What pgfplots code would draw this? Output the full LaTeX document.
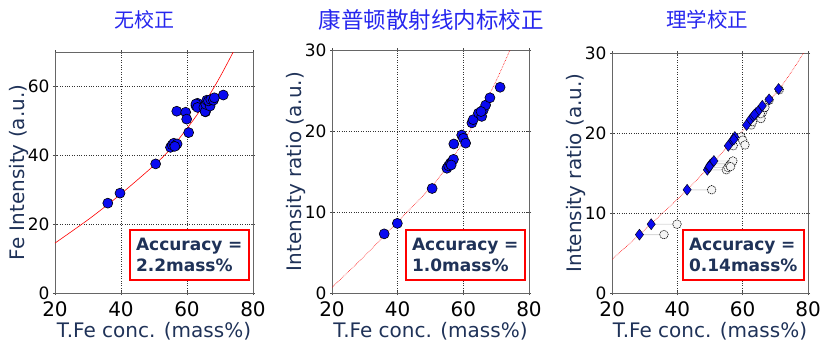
\documentclass[border=0pt]{standalone}
\usepackage{pgfplots}
\pgfplotsset{compat=1.18}
\usepackage{fontspec}
\setmainfont{DejaVu Sans}
\newfontfamily\cjk{Noto Sans CJK SC}
\definecolor{lblnavy}{HTML}{1F3258}
\definecolor{ttl}{HTML}{2626EE}
\definecolor{mblue}{HTML}{0A0AF0}
\pgfplotsset{
  panel/.style={
    scale only axis,
    xmin=20, xmax=80,
    xtick={20,40,60,80},
    grid=major,
    major grid style={black!80, dotted, line width=0.7pt},
    axis line style={black!60, line width=0.8pt},
    tick style={black!70, line width=0.6pt},
    major tick length=4pt,
    tick align=center,
    xticklabel style={font=\fontsize{20}{22}\selectfont, black, yshift=-3pt},
    yticklabel style={font=\fontsize{17}{19}\selectfont, black},
    label style={font=\fontsize{20}{22}\selectfont, text=lblnavy},
    /pgf/number format/assume math mode=true,
    xlabel={T.Fe conc. (mass\%)},
    xlabel style={yshift=1pt},
    ylabel style={yshift=-8pt},
  },
  myfit/.style={red, line width=0.6pt, smooth},
  mypt/.style={only marks, mark=*, mark size=5pt, mark options={fill=mblue, draw=black, line width=0.6pt}},
}
\tikzset{
  accstyle/.style={draw=red, line width=2pt, fill=white, anchor=south east, text=lblnavy,
        font=\bfseries\fontsize{17}{21}\selectfont, align=left,
        inner xsep=6pt, inner ysep=5pt, minimum height=50pt},
}
\begin{document}
\begin{tikzpicture}
\useasboundingbox (0pt,0pt) rectangle (832pt,354pt);
% titles
\node[text=ttl, font=\cjk\fontsize{20}{22}\selectfont] at (144pt,334pt) {无校正};
\node[text=ttl, font=\cjk\fontsize{22.5}{24}\selectfont] at (431pt,334pt) {康普顿散射线内标校正};
\node[text=ttl, font=\cjk\fontsize{20.5}{22}\selectfont] at (707pt,334pt) {理学校正};

% ---------- panel 1
\begin{axis}[panel, at={(55pt,61pt)}, anchor=south west, width=198pt, height=241pt,
  ymin=0, ymax=70, ytick={0,20,40,60}, ylabel={Fe Intensity (a.u.)}]
\addplot[myfit] coordinates {(20,14.5) (30.6,21.7) (40,28.8) (50.5,37.5) (55.5,42.4) (60,47.8) (63.9,53.0) (69.5,61.9) (74,70) (76,74)};
\addplot[mypt] coordinates {
(36.0,26.1) (39.7,29.0) (50.5,37.5)
(55.0,42.3) (55.5,43.0) (56.0,43.5) (56.5,42.8) (57.0,43.3) (56.3,42.6)
(56.9,52.8) (59.6,52.5) (59.9,50.5) (60.5,46.6)
(62.7,54.4) (63.2,55.1) (62.7,54.9) (63.2,53.9)
(65.1,53.9) (65.6,52.6) (65.5,52.7) (65.7,54.8) (66.0,56.0) (67.0,54.3)
(66.5,55.8) (67.2,56.2) (68.0,56.0) (68.3,56.7) (71.0,57.5)};
\node[accstyle, text width=107pt] at (rel axis cs:0.985,0.05) {Accuracy =\\2.2mass\%};
\end{axis}

% ---------- panel 2
\begin{axis}[panel, at={(332pt,61pt)}, anchor=south west, width=197pt, height=243pt,
  ymin=0, ymax=30, ytick={0,10,20,30}, ylabel={Intensity ratio (a.u.)}]
\addplot[myfit, densely dotted] coordinates {(20,0.7) (30,4.6) (40,8.8) (50,13.0) (55,15.6) (60,18.7) (65,22.2) (70,26.2) (74.2,30) (76,31.8)};
\addplot[mypt] coordinates {
(35.9,7.3) (39.9,8.6) (50.5,12.9)
(55.0,15.4) (55.5,15.7) (56.0,16.0) (56.5,16.2) (57.0,16.5) (56.3,15.8)
(57.1,18.4) (59.5,19.5) (60.0,19.1) (60.7,18.5)
(62.6,21.0) (63.0,21.4)
(64.6,22.2) (65.6,21.8) (66.1,22.6) (66.8,23.2) (65.4,22.4)
(68.1,24.1) (71.2,25.4)};
\node[accstyle, text width=107pt] at (rel axis cs:0.985,0.05) {Accuracy =\\1.0mass\%};
\end{axis}

% ---------- panel 3
\begin{axis}[panel, at={(612pt,61pt)}, anchor=south west, width=196pt, height=240pt,
  ymin=0, ymax=30, ytick={0,10,20,30}, ylabel={Intensity ratio (a.u.)},
  unbounded coords=jump]
\addplot[myfit, densely dotted] coordinates {(20,4.2) (28.4,7.3) (35,9.8) (43,12.9) (50,15.9) (55.6,18.4) (62,21.2) (71,25.4) (76,28.3) (80,30.9)};
\addplot[gray!30, line width=0.9pt] coordinates {
(28.4,7.3) (35.9,7.3) (36,nan)
(32.0,8.6) (39.9,8.6) (40,nan)
(43.0,12.9) (50.5,12.9) (50,nan)
(49.2,15.4) (55.0,15.4) (55,nan)
(49.6,15.7) (55.5,15.7) (55,nan)
(50.0,16.0) (56.0,16.0) (56,nan)
(50.5,16.2) (56.5,16.2) (56,nan)
(51.2,16.5) (57.0,16.5) (57,nan)
(55.6,18.4) (57.1,18.4) (57,nan)
(57.6,19.5) (59.5,19.5) (59,nan)
(56.9,19.1) (60.0,19.1) (60,nan)
(55.9,18.5) (60.7,18.5) (60,nan)
(61.2,21.0) (62.6,21.0) (62,nan)
(62.4,21.7) (65.6,21.8) (65,nan)
(64.1,22.5) (65.4,22.4) (65,nan)
};
\addplot[only marks, mark=*, mark size=4.3pt, mark options={fill=gray!8, draw=black, line width=0.6pt, dash pattern=on 1.2pt off 0.8pt}] coordinates {
(35.9,7.3) (39.9,8.6) (50.5,12.9)
(55.0,15.4) (55.5,15.7) (56.0,16.0) (56.5,16.2) (57.0,16.5) (56.3,15.8)
(57.1,18.4) (59.5,19.5) (60.0,19.1) (60.7,18.5)
(62.6,21.0) (63.0,21.4)
(64.6,22.2) (65.6,21.8) (66.1,22.6) (66.8,23.2) (65.4,22.4)
(68.1,24.1) (71.2,25.4)};
\addplot[only marks, mark=diamond*, mark size=5.5pt, mark options={fill=mblue, draw=black, line width=0.4pt}] coordinates {
(28.4,7.3) (32.0,8.6) (43.0,12.9)
(49.2,15.4) (49.6,15.7) (50.0,16.0) (50.5,16.2) (51.2,16.5) (49.8,15.8)
(55.6,18.4) (57.6,19.5) (56.9,19.1) (57.3,19.2)
(61.2,21.0) (62.4,21.7)
(63.2,22.1) (64.1,22.5) (64.7,22.7) (66.0,23.4) (63.6,22.3)
(68.1,24.2) (71.0,25.5)};
\node[accstyle, text width=109pt] at (rel axis cs:0.985,0.05) {Accuracy =\\0.14mass\%};
\end{axis}
\end{tikzpicture}
\end{document}
